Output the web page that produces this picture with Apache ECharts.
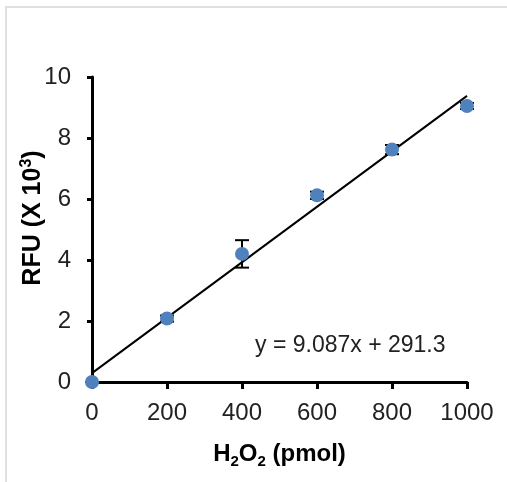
<!DOCTYPE html>
<html>
<head>
<meta charset="utf-8">
<script src="https://cdn.jsdelivr.net/npm/echarts@6/dist/echarts.min.js"></script>
<style>
  html, body { margin: 0; padding: 0; background: #fff; }
  #main { width: 507px; height: 482px; }
</style>
</head>
<body>
<div id="main"></div>
<script>
// H2O2 amount (pmol) and RFU (x10^3)
var pmol = [0, 200, 400, 600, 800, 1000];
var rfu = [0, 2.08, 4.2, 6.12, 7.62, 9.05];
var rfuErr = [0, 0.1, 0.45, 0.12, 0.15, 0.1];
// fitted line y = 9.087x + 291.3, endpoints in units of 10^3
var fitX = [0, 1000];
var fitY = [0.29, 9.38];

var myChart = echarts.init(document.getElementById('main'));

var font = 'Liberation Sans, Arial, sans-serif';

var points = pmol.map(function (x, i) { return [x, rfu[i]]; });
var errData = pmol.map(function (x, i) { return [x, rfu[i] - rfuErr[i], rfu[i] + rfuErr[i]]; });
var fitData = fitX.map(function (x, i) { return [x, fitY[i]]; });

var option = {
  animation: false,
  backgroundColor: '#fff',
  grid: { left: 92, right: 40, top: 77, bottom: 100 },
  xAxis: {
    type: 'value',
    min: 0, max: 1000, interval: 200,
    name: '{b|H}{s|2}{b|O}{s|2}{b| (pmol)}',
    nameLocation: 'middle',
    nameGap: 58,
    nameTextStyle: {
      rich: {
        b: { fontFamily: font, fontWeight: 'bold', fontSize: 24, color: '#000' },
        s: { fontFamily: font, fontWeight: 'bold', fontSize: 15, color: '#000', padding: [14, 0, 0, 0] }
      }
    },
    axisLine: { lineStyle: { color: '#000', width: 3 } },
    axisTick: { show: true, length: 7, lineStyle: { color: '#000', width: 3 } },
    axisLabel: {
      fontFamily: font, fontSize: 24, color: '#222', margin: 19,
      formatter: function (v) { return String(v); }
    },
    splitLine: { show: false }
  },
  yAxis: {
    type: 'value',
    min: 0, max: 10, interval: 2,
    axisLine: { show: true, lineStyle: { color: '#000', width: 3 } },
    axisTick: { show: true, length: 5, lineStyle: { color: '#000', width: 3 } },
    axisLabel: { fontFamily: font, fontSize: 24, color: '#222', margin: 21 },
    splitLine: { show: false }
  },
  graphic: [
    { type: 'line', shape: { x1: 5, y1: 7, x2: 507, y2: 7 }, style: { stroke: '#e0e0e0', lineWidth: 2 } },
    { type: 'line', shape: { x1: 6, y1: 7, x2: 6, y2: 482 }, style: { stroke: '#e0e0e0', lineWidth: 2 } },
    {
      type: 'text', x: 33, y: 218, rotation: Math.PI / 2,
      style: {
        text: '{b|RFU (X 10}{p|3}{b|)}',
        align: 'center', verticalAlign: 'middle',
        rich: {
          b: { fontFamily: font, fontWeight: 'bold', fontSize: 25, fill: '#000' },
          p: { fontFamily: font, fontWeight: 'bold', fontSize: 16, fill: '#000', padding: [0, 0, 12, 0] }
        }
      }
    },
    {
      type: 'text', left: 255, top: 334,
      style: { text: 'y = 9.087x + 291.3', font: '23px ' + font, fill: '#222' }
    }
  ],
  series: [
    {
      type: 'line',
      data: fitData,
      symbol: 'none',
      lineStyle: { color: '#000', width: 2 },
      z: 3
    },
    {
      type: 'custom',
      data: errData,
      z: 4,
      renderItem: function (params, api) {
        var x = api.value(0);
        var lo = api.coord([x, api.value(1)]);
        var hi = api.coord([x, api.value(2)]);
        var w = 7;
        var st = { stroke: '#000', lineWidth: 2 };
        return {
          type: 'group',
          children: [
            { type: 'line', shape: { x1: lo[0], y1: lo[1], x2: hi[0], y2: hi[1] }, style: st },
            { type: 'line', shape: { x1: hi[0] - w, y1: hi[1], x2: hi[0] + w, y2: hi[1] }, style: st },
            { type: 'line', shape: { x1: lo[0] - w, y1: lo[1], x2: lo[0] + w, y2: lo[1] }, style: st }
          ]
        };
      }
    },
    {
      type: 'scatter',
      data: points,
      symbol: 'circle',
      symbolSize: 14,
      clip: false,
      itemStyle: { color: '#4f81bd', opacity: 1 },
      z: 5
    }
  ]
};

myChart.setOption(option);
</script>
</body>
</html>
